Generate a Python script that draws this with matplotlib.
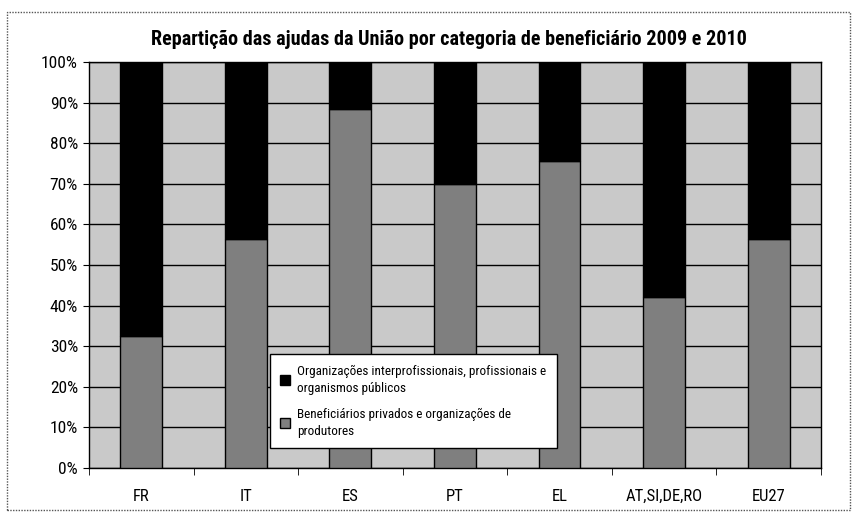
import matplotlib

matplotlib.use("Agg")
import matplotlib.pyplot as plt
import numpy as np
from matplotlib.patches import Rectangle

# share of EU aid by beneficiary category, 2009 and 2010 (%)
categories = ["FR", "IT", "ES", "PT", "EL", "AT,SI,DE,RO", "EU27"]
privados = [32.5, 56.5, 88.5, 70.0, 75.5, 42.0, 56.5]
publicos = [100 - v for v in privados]

label_pub = "Organizações interprofissionais, profissionais e\norganismos públicos"
label_priv = "Beneficiários privados e organizações de\nprodutores"
title = "Repartição das ajudas da União por categoria de beneficiário 2009 e 2010"

plt.rcParams["font.family"] = ["Roboto Condensed", "Liberation Sans", "DejaVu Sans"]

fig = plt.figure(figsize=(8.56, 5.17), dpi=100)
ax = fig.add_axes([0.104, 0.0948, 0.855, 0.7852])

bg = "#c9c9c9"
mid = "#7f7f7f"
ax.set_facecolor(bg)

x = np.arange(len(categories))
ax.bar(x, privados, width=0.4, color=mid, edgecolor="black", linewidth=1.0,
       label=label_priv, zorder=3)
ax.bar(x, publicos, width=0.4, bottom=privados, color="black", edgecolor="black",
       linewidth=1.0, label=label_pub, zorder=3)

ax.set_xlim(-0.5, len(categories) - 0.5)
ax.set_ylim(0, 100)
ax.set_yticks(np.arange(0, 101, 10))
ax.set_yticklabels([f"{v}%" for v in range(0, 101, 10)], fontsize=12.5)
ax.yaxis.grid(True, color="black", linewidth=1.0, zorder=1)
ax.set_axisbelow(True)

ax.set_xticks(x)
ax.set_xticklabels(categories, fontsize=12)
ax.tick_params(axis="x", which="major", length=0, pad=15)
ax.set_xticks(np.arange(-0.5, len(categories), 1.0), minor=True)
ax.tick_params(axis="x", which="minor", length=5, direction="out", color="black")
ax.tick_params(axis="y", length=4, direction="out", pad=4)
for s in ax.spines.values():
    s.set_color("black")
    s.set_linewidth(1.0)

h, l = ax.get_legend_handles_labels()
leg = ax.legend(h[::-1], l[::-1], loc="lower left", bbox_to_anchor=(0.247, 0.049),
                borderaxespad=0, fontsize=9.5, frameon=True, fancybox=False,
                framealpha=1, edgecolor="black", handlelength=0.75,
                handleheight=0.75, handletextpad=0.5, borderpad=0.8,
                labelspacing=0.95)
for t in leg.get_texts():
    t.set_linespacing(1.4)
leg.get_frame().set_linewidth(1.0)
leg.set_zorder(5)

fig.text(0.5245, 0.923, title, ha="center", va="center", fontsize=14.5,
         fontweight="bold")

fig.patches.append(Rectangle((0.008, 0.014), 0.985, 0.962, transform=fig.transFigure,
                             fill=False, edgecolor="#555555", linewidth=1.0,
                             linestyle=(0, (1, 1))))

fig.savefig("out.png", dpi=100)
